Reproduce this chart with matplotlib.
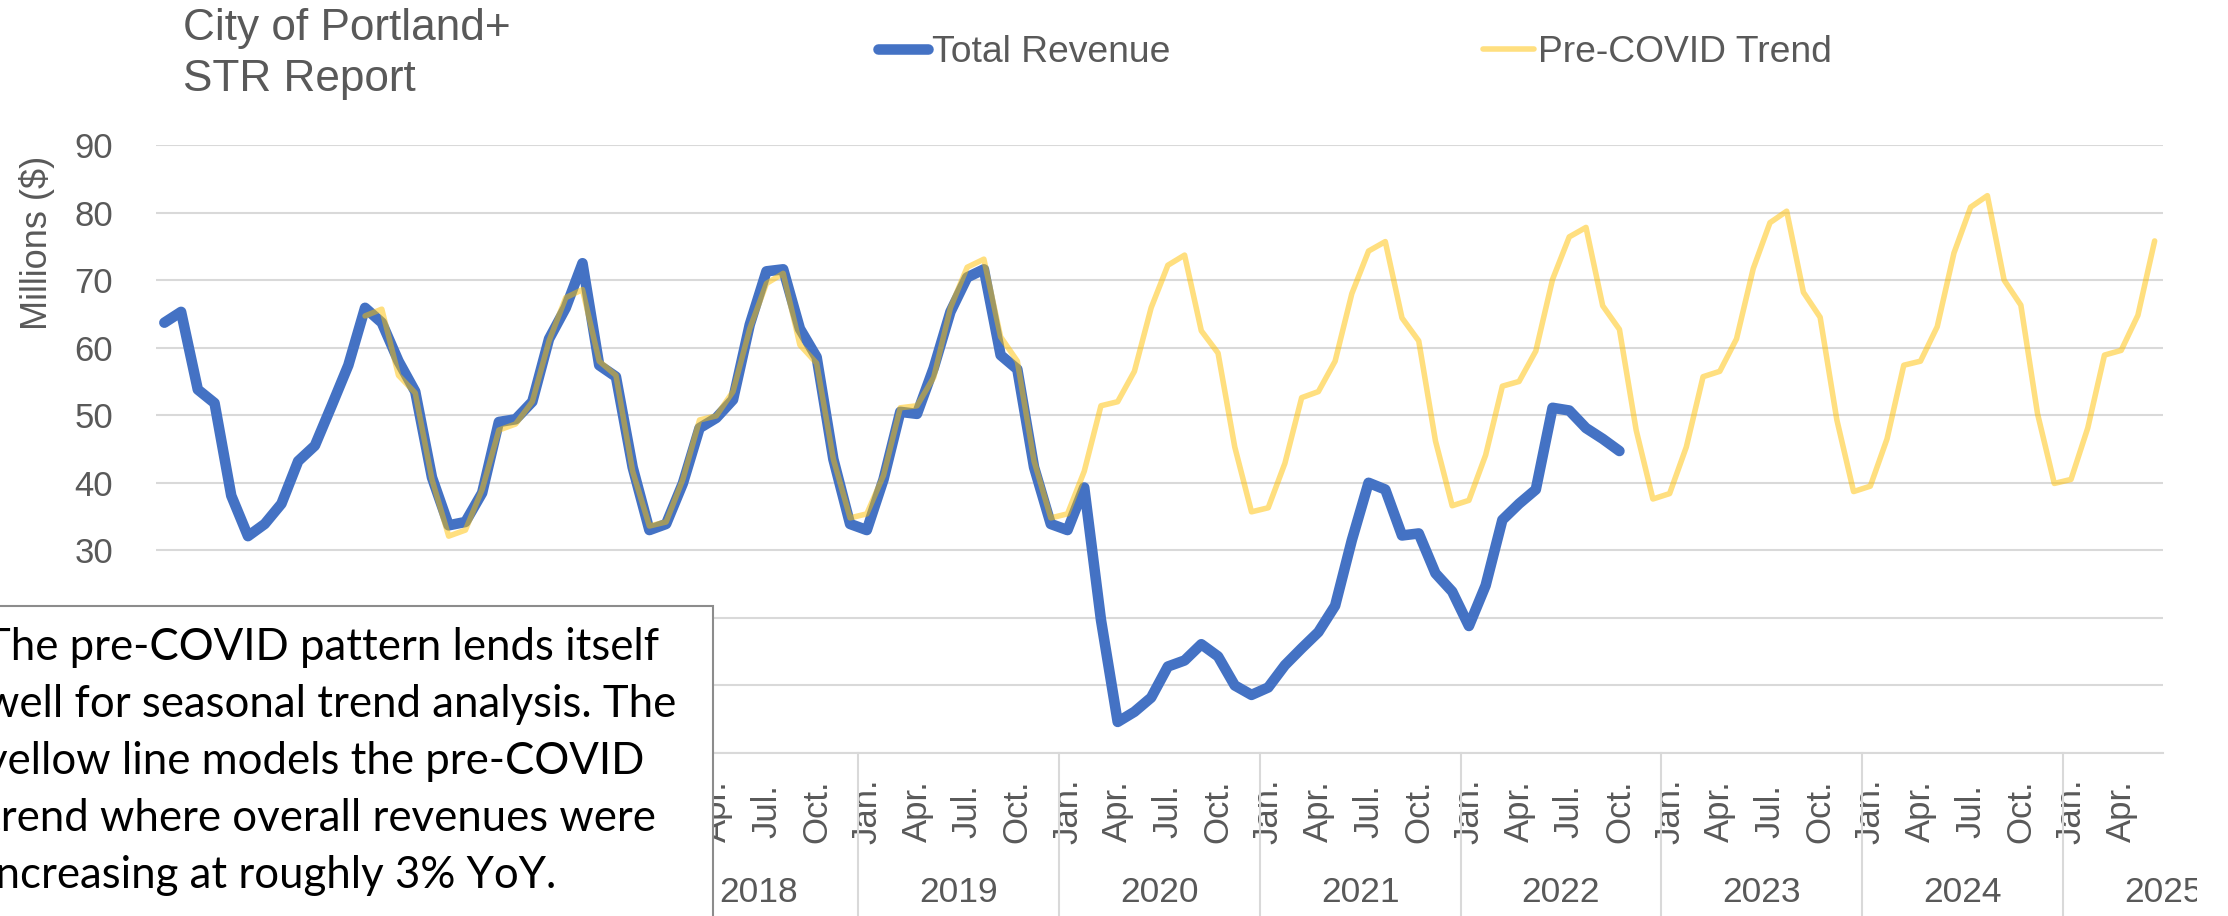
"""
    Portland STR report: monthly revenue vs pre-COVID trend
"""

import numpy as np
import matplotlib
matplotlib.use('Agg')
import matplotlib.pyplot as plt
import matplotlib.transforms as mtransforms
from matplotlib.patches import Rectangle

plt.rcParams['font.family'] = ['Liberation Sans', 'DejaVu Sans']

# months run Jul 2015 .. Jun 2025
first_year = 2015
first_month = 6          # 0 = Jan
n_months = 120
month_names = {0: 'Jan.', 3: 'Apr.', 6: 'Jul.', 9: 'Oct.'}

# Total Revenue, millions, from Jul 2015
total_revenue = [
    63.7, 65.3, 53.8, 51.8, 38.1, 32.1,
    33.9, 36.9, 43.2, 45.5, 51.4, 57.4, 65.9, 63.7, 58.0, 53.5, 40.8, 33.7,
    34.2, 38.5, 49.0, 49.4, 52.0, 61.3, 65.9, 72.5, 57.4, 55.7, 42.3, 33.0,
    33.9, 39.9, 48.1, 49.6, 52.3, 63.4, 71.3, 71.6, 62.8, 58.6, 43.5, 33.9,
    33.0, 40.5, 50.5, 50.2, 57.0, 65.3, 70.4, 71.6, 58.9, 56.8, 42.3, 33.9,
    33.0, 39.3, 19.7, 4.6, 6.1, 8.2, 12.8, 13.7, 16.1, 14.3, 10.0, 8.6,
    9.7, 13.0, 15.5, 17.9, 21.8, 31.5, 40.0, 39.0, 32.2, 32.5, 26.6, 23.9,
    18.8, 24.8, 34.5, 36.9, 39.0, 51.1, 50.7, 48.1, 46.5, 44.7,
]

# Pre-COVID Trend, millions, from Jul 2016
trend_start = 12
pre_covid_trend = [
    64.7, 65.7, 55.9, 53.3, 40.5, 32.1,
    33.0, 39.0, 47.8, 48.7, 52.0, 61.0, 67.4, 68.6, 58.0, 55.9, 41.7, 33.6,
    34.2, 40.5, 49.3, 49.9, 53.5, 62.8, 69.5, 71.0, 60.4, 57.7, 43.5, 34.8,
    35.4, 41.1, 51.1, 51.4, 55.6, 65.9, 71.9, 73.1, 61.6, 58.0, 43.2, 34.8,
    35.4, 41.7, 51.4, 52.0, 56.5, 65.9, 72.2, 73.7, 62.5, 59.2, 45.3, 35.7,
    36.3, 42.9, 52.6, 53.5, 58.0, 68.0, 74.3, 75.7, 64.4, 61.0, 46.2, 36.6,
    37.4, 44.1, 54.3, 55.0, 59.5, 70.1, 76.4, 77.8, 66.2, 62.7, 47.8, 37.6,
    38.4, 45.3, 55.7, 56.5, 61.3, 71.7, 78.5, 80.2, 68.2, 64.5, 49.3, 38.7,
    39.5, 46.5, 57.4, 58.0, 63.1, 74.0, 80.8, 82.5, 70.0, 66.3, 50.2, 39.9,
    40.5, 48.1, 58.9, 59.6, 64.8, 75.8,
]

note_lines = [
    'The pre-COVID pattern lends itself',
    'well for seasonal trend analysis. The',
    'yellow line models the pre-COVID',
    'trend where overall revenues were',
    'increasing at roughly 3% YoY.',
]

grey_text = '#595959'
grid_col = '#D9D9D9'
blue = '#4472C4'
gold = '#FFC000'

W, H = 2228, 916
fig = plt.figure(figsize=(W / 100, H / 100), dpi=100)
ax = fig.add_axes([156 / W, 1 - 753 / H, (2163 - 156) / W, (753 - 145) / H])

x_rev = np.arange(len(total_revenue))
x_trend = np.arange(len(pre_covid_trend)) + trend_start

ax.plot(x_rev, total_revenue, color=blue, lw=7.6, solid_capstyle='round',
        solid_joinstyle='round', label='Total Revenue', zorder=3)
ax.plot(x_trend, pre_covid_trend, color=gold, alpha=0.5, lw=4.0,
        solid_capstyle='round', solid_joinstyle='round',
        label='Pre-COVID Trend', zorder=4)

ax.set_xlim(-0.5, n_months - 0.5)
ax.set_ylim(0, 90)
ax.set_yticks(np.arange(0, 91, 10))
ax.yaxis.grid(True, color=grid_col, lw=1.5)
ax.set_axisbelow(True)
for s in ['top', 'right', 'left']:
    ax.spines[s].set_visible(False)
ax.spines['bottom'].set_color(grid_col)
ax.spines['bottom'].set_linewidth(1.5)
ax.tick_params(axis='y', length=0, pad=31, labelsize=25, labelcolor=grey_text)

# month ticks (Jan/Apr/Jul/Oct)
months = [(first_month + k) % 12 for k in range(n_months)]
tick_pos = [k for k in range(n_months) if months[k] in month_names]
ax.set_xticks(tick_pos)
ax.set_xticklabels([month_names[months[k]] for k in tick_pos])
ax.tick_params(axis='x', length=0, pad=42, labelsize=25, labelcolor=grey_text)
plt.setp(ax.get_xticklabels(), rotation=90, va='center', ha='center')

# year level of the category axis
trans = mtransforms.blended_transform_factory(ax.transData, ax.transAxes)
jan_pos = [k for k in range(n_months) if months[k] == 0]
for k in jan_pos:
    ax.plot([k - 0.5, k - 0.5], [0, -0.3], transform=trans, color=grid_col,
            lw=1.5, clip_on=False)
years = sorted(set(first_year + (first_month + k) // 12 for k in range(n_months)))
for yr in years:
    jan_k = (yr - first_year) * 12 - first_month
    ax.text(jan_k + 5.5, -0.230, str(yr), transform=trans, ha='center',
            va='center', fontsize=25.5, color=grey_text)

ax.legend(ncol=2, loc='center', bbox_to_anchor=(0.608, 0.943),
          bbox_transform=fig.transFigure, frameon=False, fontsize=26.8,
          labelcolor=grey_text, handlelength=1.36, handletextpad=0.1,
          columnspacing=8.4)

fig.text(36.6 / W, 1 - 243 / H, 'Millions ($)', rotation=90, ha='center',
         va='center', fontsize=26, color=grey_text)

fig.text(183 / W, 1 - 40 / H, 'City of Portland+', fontsize=31.8,
         color=grey_text, va='baseline')
fig.text(183 / W, 1 - 91 / H, 'STR Report', fontsize=31.8,
         color=grey_text, va='baseline')

# note box over the lower left corner
box_top = 1 - 605.7 / H
fig.patches.append(Rectangle((-0.01, -0.01), 712.6 / W + 0.01, box_top + 0.01,
                             transform=fig.transFigure, facecolor='white',
                             edgecolor='#8C8C8C', lw=1.5, zorder=10))
for i, line in enumerate(note_lines):
    fig.text(-15 / W, 1 - (660 + 57 * i) / H, line, fontsize=31.5,
             family=['Lato', 'DejaVu Sans'], color='black', va='baseline',
             zorder=11)

# chart area ends before the image edge
fig.patches.append(Rectangle((2197 / W, 0), 1, 1, transform=fig.transFigure,
                             facecolor='white', edgecolor='none', zorder=12))

fig.savefig('out.png', dpi=100)
